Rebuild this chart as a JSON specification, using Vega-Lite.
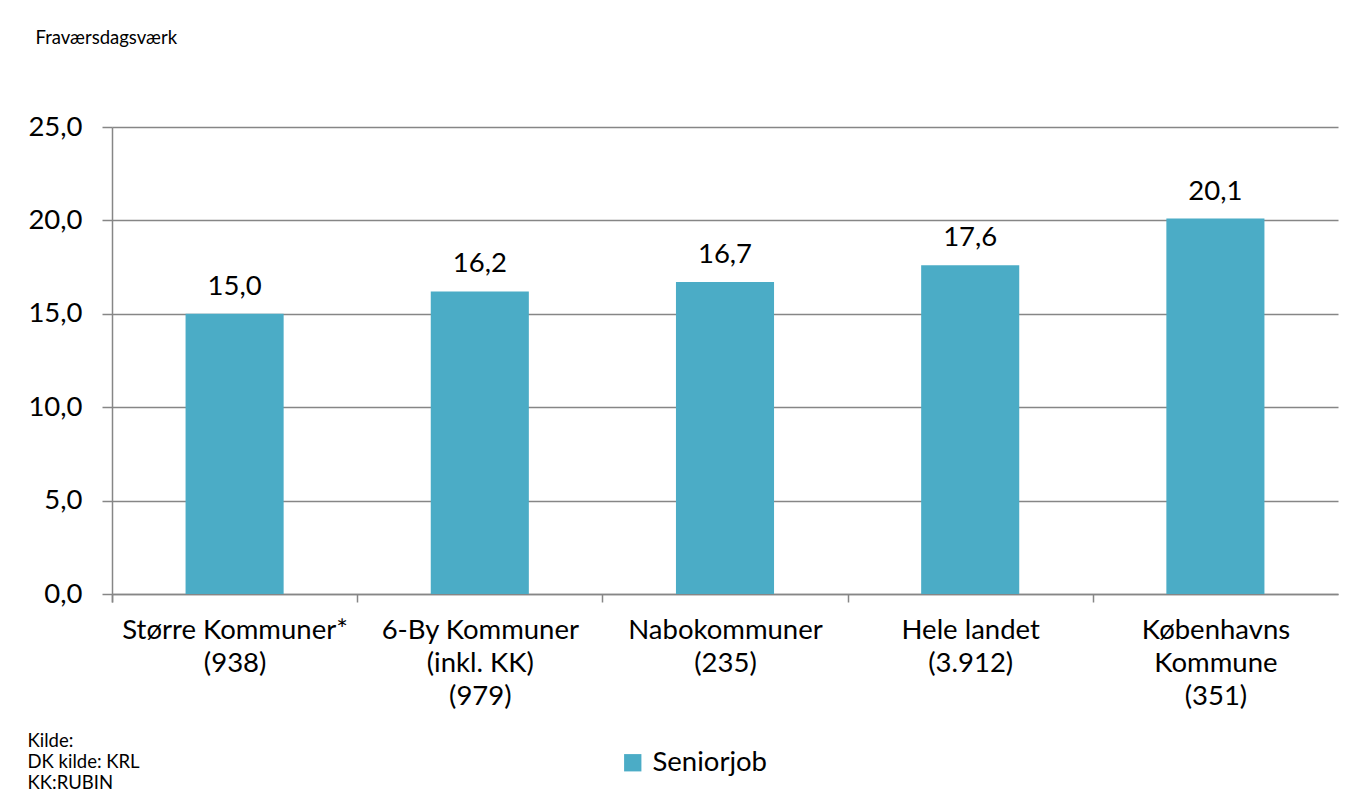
{
  "$schema": "https://vega.github.io/schema/vega-lite/v6.json",
  "width": 1226,
  "height": 467,
  "autosize": {"type": "none"},
  "padding": {"left": 112, "top": 127, "right": 19, "bottom": 201},
  "background": "white",
  "config": {
    "font": "Lato",
    "view": {"stroke": null},
    "locale": {
      "number": {"decimal": ",", "thousands": ".", "grouping": [3], "currency": ["", " kr."]}
    }
  },
  "data": {
    "values": [
      {"region": "Større Kommuner*|(938)", "value": 15.0, "serie": "Seniorjob"},
      {"region": "6-By Kommuner|(inkl. KK)|(979)", "value": 16.2, "serie": "Seniorjob"},
      {"region": "Nabokommuner|(235)", "value": 16.7, "serie": "Seniorjob"},
      {"region": "Hele landet|(3.912)", "value": 17.6, "serie": "Seniorjob"},
      {"region": "Københavns|Kommune|(351)", "value": 20.1, "serie": "Seniorjob"}
    ]
  },
  "layer": [
    {
      "mark": {"type": "bar", "color": "#4BACC6"},
      "encoding": {
        "x": {
          "field": "region", "type": "nominal", "sort": null,
          "scale": {"paddingInner": 0.6, "paddingOuter": 0.3},
          "axis": {
            "labelExpr": "split(datum.label, '|')",
            "labelAngle": 0,
            "labelFontSize": 27.5,
            "labelLimit": 0,
            "labelColor": "#000000",
            "labelLineHeight": 33,
            "labelPadding": 14,
            "labelBaseline": "top",
            "bandPosition": 0,
            "tickOffset": -73.5,
            "labelOffset": 73.5,
            "tickExtra": true,
            "tickSize": 8,
            "tickColor": "#868686",
            "tickWidth": 1.5,
            "domainColor": "#868686",
            "domainWidth": 1.5,
            "title": ["Kilde:", "DK kilde: KRL", "KK:RUBIN"],
            "titleFontSize": 18.5,
            "titleFontWeight": "normal",
            "titleColor": "#000000",
            "titleAnchor": "start",
            "titleAlign": "left",
            "titleBaseline": "top",
            "titleLineHeight": 21,
            "titleX": -85,
            "titleY": 137
          }
        },
        "y": {
          "field": "value", "type": "quantitative",
          "scale": {"domain": [0, 25], "nice": false},
          "axis": {
            "values": [0, 5, 10, 15, 20, 25],
            "format": ".1f",
            "labelFontSize": 27.5,
            "labelColor": "#000000",
            "labelPadding": 20,
            "tickSize": 10,
            "tickColor": "#868686",
            "tickWidth": 1.5,
            "domainColor": "#868686",
            "domainWidth": 1.5,
            "gridColor": "#868686",
            "gridWidth": 1.5,
            "title": "Fraværsdagsværk",
            "titleAngle": 0,
            "titleFontSize": 18.5,
            "titleFontWeight": "normal",
            "titleColor": "#000000",
            "titleAlign": "left",
            "titleBaseline": "middle",
            "titleX": -77,
            "titleY": -90
          }
        },
        "color": {
          "field": "serie", "type": "nominal",
          "scale": {"range": ["#4BACC6"]},
          "legend": {
            "orient": "none",
            "legendX": 507,
            "legendY": 622,
            "title": null,
            "symbolType": "square",
            "symbolSize": 300,
            "symbolStrokeWidth": 0,
            "labelFontSize": 27.5,
            "labelColor": "#000000",
            "labelOffset": 6
          }
        }
      }
    },
    {
      "mark": {"type": "text", "dy": -27, "fontSize": 27.5, "color": "#000000"},
      "encoding": {
        "x": {"field": "region", "type": "nominal", "sort": null},
        "y": {"field": "value", "type": "quantitative", "scale": {"domain": [0, 25], "nice": false}},
        "text": {"field": "value", "type": "quantitative", "format": ".1f"}
      }
    }
  ]
}
